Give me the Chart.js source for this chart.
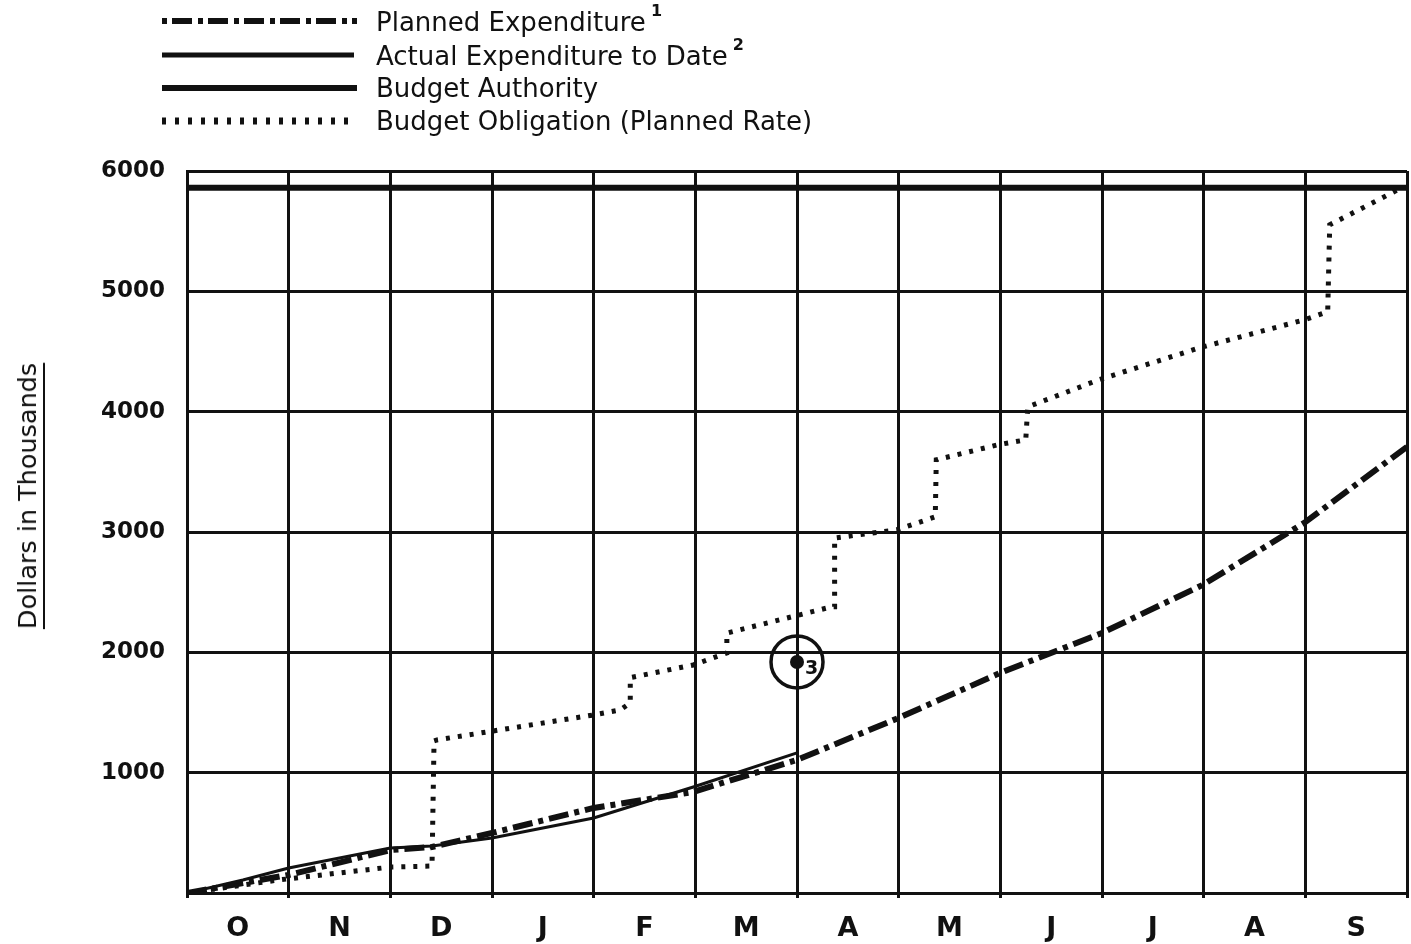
<!DOCTYPE html>
<html>
<head>
<meta charset="utf-8">
<script src="https://cdn.jsdelivr.net/npm/chart.js@4.4.1/dist/chart.umd.min.js"></script>
<style>
  body { margin: 0; background: #fff; }
  #wrap { position: relative; width: 1411px; height: 944px; }
  #myChart { position: absolute; left: 0; top: 0; }
  .legend-row { position: absolute; left: 162px; height: 30px; display: flex; align-items: center;
    font: 26px "DejaVu Sans"; color: #111; white-space: nowrap; }
  .legend-row svg { margin-right: 19px; }
  .legend-row sup { font: bold 16px "DejaVu Sans"; position: relative; top: -5px; margin-left: 5px; }
  #yTitle { position: absolute; left: 27px; top: 496px; transform: translate(-50%, -50%) rotate(-90deg);
    font: 25.5px "DejaVu Sans"; color: #111; white-space: nowrap; text-decoration: underline;
    text-underline-offset: 7px; text-decoration-thickness: 2px; }
</style>
</head>
<body>
<div id="wrap">
  <canvas id="myChart" width="1411" height="944"></canvas>
  <div class="legend-row" style="top:6px">
    <svg width="195" height="10"><line x1="0" y1="5" x2="195" y2="5" stroke="#111" stroke-width="6" stroke-dasharray="5 5 20 6"/></svg>
    <span>Planned Expenditure<sup>1</sup></span>
  </div>
  <div class="legend-row" style="top:40px">
    <svg width="195" height="10"><line x1="0" y1="5" x2="192" y2="5" stroke="#111" stroke-width="5"/></svg>
    <span>Actual Expenditure to Date<sup>2</sup></span>
  </div>
  <div class="legend-row" style="top:73px">
    <svg width="195" height="10"><line x1="0" y1="5" x2="195" y2="5" stroke="#111" stroke-width="6"/></svg>
    <span>Budget Authority</span>
  </div>
  <div class="legend-row" style="top:106px">
    <svg width="195" height="10"><line x1="0" y1="5" x2="195" y2="5" stroke="#111" stroke-width="7" stroke-dasharray="4 9"/></svg>
    <span>Budget Obligation (Planned Rate)</span>
  </div>
  <div id="yTitle">Dollars in Thousands</div>
</div>
<script>
const months = ["O", "N", "D", "J", "F", "M", "A", "M", "J", "J", "A", "S"]
const yTickValues = [1000, 2000, 3000, 4000, 5000, 6000]

// x = months since 1 October, y = dollars in thousands
const authorityMonth = [0, 12]
const authorityValue = [5860, 5860]

const obligationMonth = [0, 0.9, 1.49, 2.01, 2.41, 2.43, 2.46, 4.0, 4.26, 4.36, 4.36, 4.98, 5.31, 5.31, 6.34, 6.37, 6.37, 6.98, 7.36, 7.37, 7.97, 8.25, 8.27, 8.97, 9.96, 10.99, 11.22, 11.24, 11.91]
const obligationValue = [0, 108, 166, 216, 224, 1264, 1272, 1480, 1521, 1580, 1790, 1895, 1995, 2160, 2378, 2378, 2950, 3018, 3126, 3600, 3724, 3766, 4040, 4265, 4531, 4763, 4830, 5553, 5844]

const plannedMonth = [0, 1, 2, 2.41, 3, 4, 4.98, 6, 7, 8, 9, 9.99, 10.99, 12]
const plannedValue = [0, 150, 357, 382, 499, 707, 840, 1106, 1455, 1829, 2161, 2560, 3076, 3708]

const actualMonth = [0, 0.55, 1, 2, 2.41, 3, 4, 4.98, 6]
const actualValue = [0, 108, 208, 374, 390, 457, 623, 881, 1164]

const noteMonth = [6]
const noteValue = [1920]
const noteLabel = "3"

const lineColor = "#111"
const fontName = "DejaVu Sans"

function toPoints(xs, ys) {
  return xs.map((x, i) => ({x: x, y: ys[i]}))
}

const noteLabelPlugin = {
  id: "noteLabel",
  afterDatasetsDraw(chart) {
    const ctx = chart.ctx
    const px = chart.scales.x.getPixelForValue(noteMonth[0])
    const py = chart.scales.y.getPixelForValue(noteValue[0])
    ctx.save()
    ctx.fillStyle = lineColor
    ctx.font = "bold 19px '" + fontName + "'"
    ctx.textBaseline = "middle"
    ctx.fillText(noteLabel, px + 8, py + 7)
    ctx.restore()
  }
}

const lineBase = {pointRadius: 0, tension: 0, fill: false, borderColor: lineColor, borderCapStyle: "butt"}

new Chart("myChart", {
  type: "line",
  data: {
    datasets: [
      Object.assign({label: "Budget Authority", data: toPoints(authorityMonth, authorityValue), borderWidth: 6}, lineBase),
      Object.assign({label: "Budget Obligation (Planned Rate)", data: toPoints(obligationMonth, obligationValue), borderWidth: 5, borderDash: [4, 8]}, lineBase),
      Object.assign({label: "Planned Expenditure", data: toPoints(plannedMonth, plannedValue), borderWidth: 6, borderDash: [20, 6, 5, 6]}, lineBase),
      Object.assign({label: "Actual Expenditure to Date", data: toPoints(actualMonth, actualValue), borderWidth: 3}, lineBase),
      {label: "note ring", data: toPoints(noteMonth, noteValue), showLine: false, pointRadius: 26, pointBorderWidth: 3.5,
        pointBorderColor: lineColor, pointBackgroundColor: "rgba(0,0,0,0)"},
      {label: "note dot", data: toPoints(noteMonth, noteValue), showLine: false, pointRadius: 7, pointBorderWidth: 0,
        pointBackgroundColor: lineColor}
    ]
  },
  options: {
    responsive: false,
    animation: false,
    layout: {autoPadding: false, padding: {left: 0, top: 171, right: 4, bottom: 0}},
    plugins: {legend: {display: false}, tooltip: {enabled: false}},
    scales: {
      x: {
        type: "linear",
        min: 0,
        max: 12,
        afterFit(scale) {
          scale.height = 51
          scale.paddingLeft = 0
          scale.paddingRight = 0
        },
        border: {display: true, color: lineColor, width: 3},
        grid: {
          color: ctx => (ctx.tick && Number.isInteger(ctx.tick.value)) ? lineColor : "rgba(0,0,0,0)",
          lineWidth: 3,
          tickLength: 5
        },
        ticks: {
          stepSize: 0.5,
          autoSkip: false,
          maxRotation: 0,
          padding: 15,
          color: lineColor,
          font: {family: fontName, size: 27, weight: "bold"},
          callback: v => Number.isInteger(v) ? "" : months[Math.floor(v)]
        }
      },
      y: {
        min: 0,
        max: 6000,
        afterFit(scale) {
          scale.width = 187
          scale.paddingTop = 0
          scale.paddingBottom = 0
        },
        afterBuildTicks(scale) { scale.ticks = [0].concat(yTickValues).map(v => ({value: v})) },
        border: {display: true, color: lineColor, width: 3},
        grid: {color: lineColor, lineWidth: 3, drawTicks: false},
        ticks: {
          padding: 22,
          color: lineColor,
          font: {family: fontName, size: 23, weight: "bold"},
          callback: v => v === 0 ? "" : v
        }
      }
    }
  },
  plugins: [noteLabelPlugin]
})
</script>
</body>
</html>
